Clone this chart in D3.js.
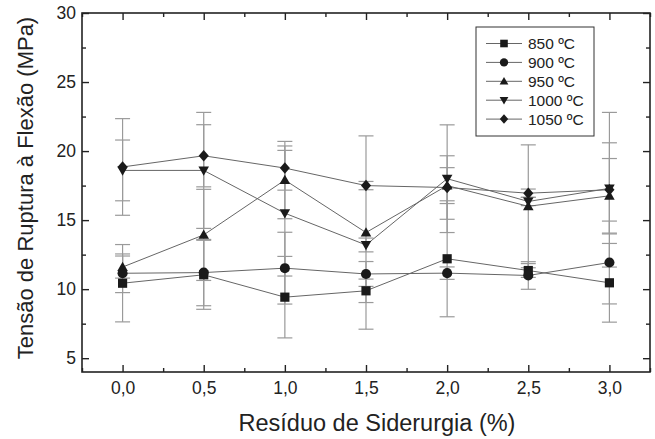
<!doctype html>
<meta charset='utf-8' />
<script src='https://cdn.jsdelivr.net/npm/d3@7/dist/d3.min.js'></script>
<style>
    body { margin: 0; background: #fff; }
    text { font-family: 'Liberation Sans', Arial, sans-serif; fill: #222; }
</style>
<svg></svg>
<script>
    var width = 655,
        height = 439,
        plotL = 82, plotR = 650, plotT = 13, plotB = 372

    // residuo de siderurgia (%)
    var residuo = [0, 0.5, 1.0, 1.5, 2.0, 2.5, 3.0]

    var t850 = [10.43, 11.04, 9.42, 9.88, 12.2, 11.35, 10.46]
    var e850 = [2.8, 2.5, 2.95, 0.85, 4.2, 0.5, 2.85]
    var t900 = [11.15, 11.2, 11.52, 11.1, 11.16, 10.99, 11.93]
    var e900 = [1.4, 2.4, 2.6, 0.9, 0.45, 1.0, 3.0]
    var t950 = [11.6, 13.93, 17.9, 14.1, 17.5, 16.0, 16.76]
    var e950 = [0.8, 3.3, 2.8, 7.0, 1.3, 4.45, 2.7]
    var t1000 = [18.6, 18.6, 15.5, 13.2, 18.0, 16.35, 17.3]
    var e1000 = [2.2, 4.2, 4.55, 0.5, 3.9, 0.3, 3.3]
    var t1050 = [18.85, 19.66, 18.77, 17.5, 17.36, 16.95, 17.2]
    var e1050 = [3.5, 2.25, 1.6, 0.3, 2.3, 0.3, 5.6]

    var legendLabels = ['850 ºC', '900 ºC', '950 ºC', '1000 ºC', '1050 ºC']
    var xTicks = [0, 0.5, 1.0, 1.5, 2.0, 2.5, 3.0]
    var yTicks = [5, 10, 15, 20, 25, 30]

    var series = [
        { name: legendLabels[0], vals: t850, errs: e850, shape: 'square' },
        { name: legendLabels[1], vals: t900, errs: e900, shape: 'circle' },
        { name: legendLabels[2], vals: t950, errs: e950, shape: 'up' },
        { name: legendLabels[3], vals: t1000, errs: e1000, shape: 'down' },
        { name: legendLabels[4], vals: t1050, errs: e1050, shape: 'diamond' }
    ]

    var svg = d3.select('svg')
        .attr('width', width)
        .attr('height', height)

    var x = d3.scaleLinear().domain([-0.25, 3.25]).range([plotL, plotR])
    var y = d3.scaleLinear().domain([4, 30]).range([plotB, plotT])

    var fmt = d => d3.format('.1f')(d).replace('.', ',')

    function markerPath(shape, s) {
        // s = half size
        if (shape == 'square') return 'M' + -s + ',' + -s + 'h' + 2 * s + 'v' + 2 * s + 'h' + -2 * s + 'Z'
        if (shape == 'circle') return d3.symbol(d3.symbolCircle, Math.PI * s * s * 1.2)()
        if (shape == 'up') return 'M0,' + (-s * 1.15) + 'L' + s * 1.15 + ',' + s * 0.85 + 'L' + -s * 1.15 + ',' + s * 0.85 + 'Z'
        if (shape == 'down') return 'M0,' + (s * 1.15) + 'L' + s * 1.15 + ',' + -s * 0.85 + 'L' + -s * 1.15 + ',' + -s * 0.85 + 'Z'
        return 'M0,' + (-s * 1.25) + 'L' + s * 1.1 + ',0L0,' + s * 1.25 + 'L' + -s * 1.1 + ',0Z'
    }

    // error bars
    var capW = 7.5
    series.forEach(function (s) {
        var g = svg.append('g').attr('class', 'err')
        residuo.forEach(function (r, i) {
            var cx = x(r), lo = y(s.vals[i] - s.errs[i]), hi = y(s.vals[i] + s.errs[i])
            g.append('line').attr('x1', cx).attr('x2', cx).attr('y1', lo).attr('y2', hi)
            g.append('line').attr('x1', cx - capW).attr('x2', cx + capW).attr('y1', lo).attr('y2', lo)
            g.append('line').attr('x1', cx - capW).attr('x2', cx + capW).attr('y1', hi).attr('y2', hi)
        })
    })
    svg.selectAll('.err line')
        .style('stroke', '#9a9a9a')
        .style('stroke-width', 1.2)

    // series lines
    var line = d3.line().x((d, i) => x(residuo[i])).y(d => y(d))
    svg.selectAll('path.serie')
        .data(series)
        .enter()
        .append('path')
        .attr('class', 'serie')
        .attr('d', d => line(d.vals))
        .style('fill', 'none')
        .style('stroke', '#666')
        .style('stroke-width', 1)

    // markers
    series.forEach(function (s) {
        svg.selectAll(null)
            .data(s.vals)
            .enter()
            .append('path')
            .attr('transform', (d, i) => 'translate(' + x(residuo[i]) + ',' + y(d) + ')')
            .attr('d', markerPath(s.shape, 4.6))
            .style('fill', '#1a1a1a')
    })

    // axes (ticks pointing inward, mirrored on top/right)
    var xMinor = d3.range(-0.25, 3.26, 0.5)
    var yMinor = d3.range(7.5, 30, 5)

    svg.append('g')
        .attr('transform', 'translate(0,' + plotB + ')')
        .call(d3.axisBottom(x).tickValues(xTicks).tickFormat(fmt).tickSize(-7).tickPadding(10))
    svg.append('g')
        .attr('transform', 'translate(0,' + plotB + ')')
        .call(d3.axisBottom(x).tickValues(xMinor).tickFormat('').tickSize(-4))
    svg.append('g')
        .attr('transform', 'translate(0,' + plotT + ')')
        .call(d3.axisTop(x).tickValues(xTicks).tickFormat('').tickSize(-7))
    svg.append('g')
        .attr('transform', 'translate(0,' + plotT + ')')
        .call(d3.axisTop(x).tickValues(xMinor).tickFormat('').tickSize(-4))

    svg.append('g')
        .attr('transform', 'translate(' + plotL + ',0)')
        .call(d3.axisLeft(y).tickValues(yTicks).tickSize(-7).tickPadding(6))
    svg.append('g')
        .attr('transform', 'translate(' + plotL + ',0)')
        .call(d3.axisLeft(y).tickValues(yMinor).tickFormat('').tickSize(-4))
    svg.append('g')
        .attr('transform', 'translate(' + plotR + ',0)')
        .call(d3.axisRight(y).tickValues(yTicks).tickFormat('').tickSize(-7))
    svg.append('g')
        .attr('transform', 'translate(' + plotR + ',0)')
        .call(d3.axisRight(y).tickValues(yMinor).tickFormat('').tickSize(-4))

    svg.selectAll('.domain').remove()
    svg.selectAll('.tick line').style('stroke', '#222').style('stroke-width', 1.4)
    svg.selectAll('.tick text')
        .style('font-size', '17.5px')
        .style('font-family', "'Liberation Sans', Arial, sans-serif")
        .style('fill', '#222')

    svg.append('rect')
        .attr('x', plotL).attr('y', plotT)
        .attr('width', plotR - plotL).attr('height', plotB - plotT)
        .style('fill', 'none')
        .style('stroke', '#222')
        .style('stroke-width', 1.6)

    // axis titles
    svg.append('text')
        .attr('x', 377)
        .attr('y', 431)
        .attr('text-anchor', 'middle')
        .style('font-size', '23.5px')
        .text('Resíduo de Siderurgia (%)')

    svg.append('text')
        .attr('transform', 'translate(33,188) rotate(-90)')
        .attr('text-anchor', 'middle')
        .style('font-size', '22px')
        .text('Tensão de Ruptura à Flexão (MPa)')

    // legend
    var legend = svg.append('g')
    legend.append('rect')
        .attr('x', 476).attr('y', 27)
        .attr('width', 118).attr('height', 109)
        .style('fill', '#fff')
        .style('stroke', '#333')
        .style('stroke-width', 1)

    var rows = legend.selectAll('g.row')
        .data(series)
        .enter()
        .append('g')
        .attr('transform', (d, i) => 'translate(0,' + (43.5 + i * 18.9) + ')')
    rows.append('line')
        .attr('x1', 486).attr('x2', 522)
        .style('stroke', '#666')
        .style('stroke-width', 1)
    rows.append('path')
        .attr('transform', 'translate(504,0)')
        .attr('d', d => markerPath(d.shape, 3.8))
        .style('fill', '#1a1a1a')
    rows.append('text')
        .attr('x', 528)
        .attr('dy', '0.36em')
        .style('font-size', '15.5px')
        .text(d => d.name)
</script>
